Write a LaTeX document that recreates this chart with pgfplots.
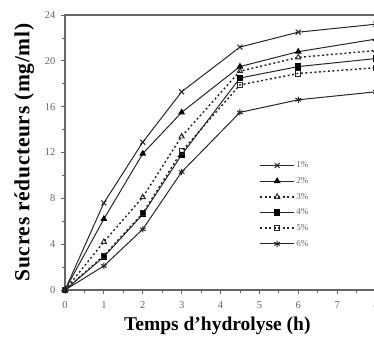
\documentclass[border=0pt]{standalone}
\usepackage{fontspec}
\setmainfont{Liberation Serif}
\usepackage{pgfplots}
\pgfplotsset{compat=1.18}
\definecolor{axgray}{gray}{0.4}
\definecolor{lblgray}{gray}{0.4}
\definecolor{lngray}{gray}{0.15}
\begin{document}
\begin{tikzpicture}
\begin{axis}[
  at={(0,0)}, anchor=south west,
  scale only axis, width=311pt, height=275pt,
  xmin=0, xmax=8, ymin=0, ymax=24,
  xtick={0,1,...,8}, ytick={0,4,...,24},
  minor x tick num=1, minor y tick num=1,
  tick align=outside, xtick pos=bottom, ytick pos=left,
  major tick length=4pt, minor tick length=3pt,
  axis line style={axgray, line width=1.3pt},
  every tick/.style={axgray, line width=0.8pt},
  tick label style={font=\fontsize{10.5}{12}\selectfont, text=lblgray},
  xticklabel style={yshift=-4pt},
  yticklabel style={xshift=-2pt},
  /pgf/number format/assume math mode=true,
  xlabel={\fontsize{19.5}{21}\selectfont\bfseries Temps d'hydrolyse (h)},
  ylabel={\fontsize{21.5}{23}\selectfont\bfseries\addfontfeature{LetterSpace=3} Sucres réducteurs (mg/ml)},
  xlabel style={at={(rel axis cs:0.49,0)}, anchor=center, yshift=-36pt},
  ylabel style={yshift=4pt},
  legend style={draw=none, fill=none, at={(rel axis cs:0.615,0.48)}, anchor=north west,
    font=\fontsize{9}{10}\selectfont, text=lblgray, row sep=5.2pt,
    nodes={inner sep=1.5pt}},
  legend cell align=left,
  legend image code/.code={\draw[mark repeat=2,mark phase=2,#1] plot coordinates {(0pt,0pt) (17pt,0pt) (34pt,0pt)};},
  every axis plot/.append style={lngray, line width=1pt},
]
\addplot[mark=x, mark size=3.5pt, mark options={solid, line width=1pt}] coordinates {(0,0)(1,7.6)(2,12.9)(3,17.3)(4.5,21.2)(6,22.5)(8,23.2)};
\addlegendentry{1\%}
\addplot[mark=triangle*, mark size=3pt, mark options={solid, fill=black, draw=black}] coordinates {(0,0)(1,6.2)(2,11.9)(3,15.5)(4.5,19.5)(6,20.8)(8,21.9)};
\addlegendentry{2\%}
\addplot[dash pattern=on 2pt off 2.5pt, line width=1.4pt, mark=triangle, mark size=3pt, mark options={solid, line width=0.9pt, fill=white}] coordinates {(0,0)(1,4.2)(2,8.1)(3,13.4)(4.5,19.1)(6,20.3)(8,20.9)};
\addlegendentry{3\%}
\addplot[mark=square*, mark size=2.6pt, mark options={solid, fill=black, draw=black}] coordinates {(0,0)(1,2.9)(2,6.6)(3,11.8)(4.5,18.5)(6,19.5)(8,20.2)};
\addlegendentry{4\%}
\addplot[dash pattern=on 2pt off 2.5pt, line width=1.4pt, mark=square, mark size=2.6pt, mark options={solid, line width=0.9pt, fill=white}] coordinates {(0,0)(1,3.0)(2,6.7)(3,12.1)(4.5,17.9)(6,18.9)(8,19.4)};
\addlegendentry{5\%}
\addplot[mark=asterisk, mark size=3.2pt, mark options={solid, line width=1pt}] coordinates {(0,0)(1,2.1)(2,5.3)(3,10.3)(4.5,15.5)(6,16.6)(8,17.3)};
\addlegendentry{6\%}
\end{axis}
\pgfresetboundingbox
\path[use as bounding box] (-65pt,-48pt) rectangle (309pt,290pt);
\end{tikzpicture}
\end{document}
